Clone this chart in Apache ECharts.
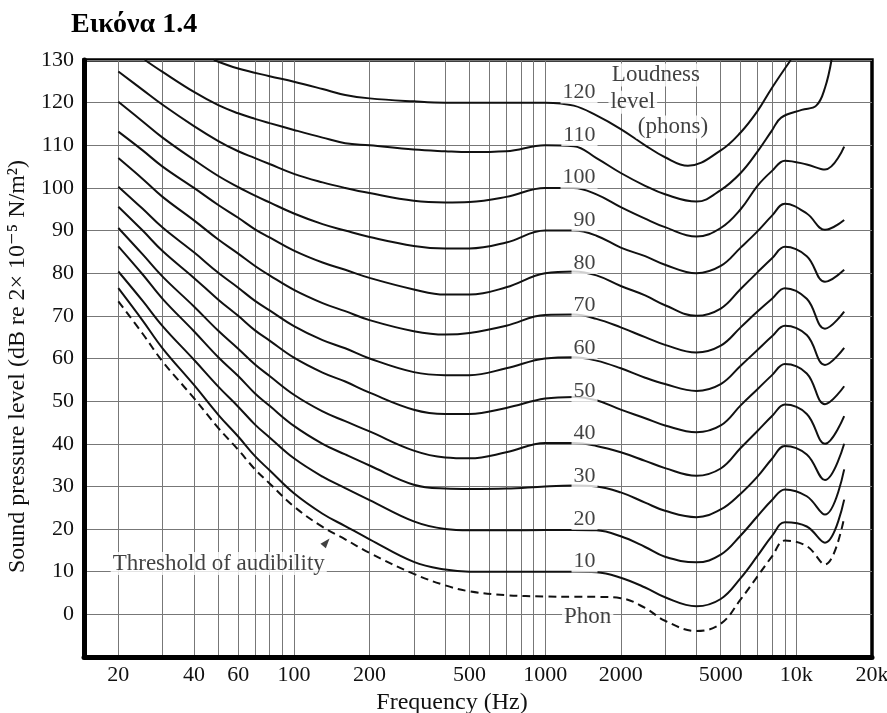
<!DOCTYPE html>
<html>
<head>
<meta charset="utf-8">
<script src="https://cdn.jsdelivr.net/npm/echarts@6/dist/echarts.min.js"></script>
<style>html,body{margin:0;padding:0;background:#fff}#c{width:887px;height:713px}</style>
</head>
<body>
<div id="c"></div>
<script>
// ---------- data ----------
const freqs = [20, 25, 30, 40, 50, 60, 70, 80, 100, 130, 160, 200, 300, 400, 500, 700, 1000, 1300, 1600, 2000, 2500, 3000, 4000, 5000, 6000, 7000, 8000, 9000, 11000, 13000, 15500];

const threshold = [73.4, 65.8, 59.3, 50.7, 43.7, 38.6, 34.0, 30.7, 25.3, 20.5, 17.6, 14.4, 9.5, 6.8, 5.4, 4.5, 4.2, 4.1, 4.1, 3.8, 1.5, -1.5, -3.9, -2.2, 3.5, 8.9, 13.6, 17.3, 16.0, 11.7, 22.7];
const phon10  = [76.5, 68.9, 62.4, 53.8, 46.8, 41.7, 37.1, 33.8, 28.4, 23.6, 20.7, 17.6, 12.3, 10.5, 10.0, 10.0, 10.0, 10.0, 9.9, 8.6, 6.3, 4.0, 1.9, 3.6, 8.5, 13.7, 18.4, 21.6, 20.6, 16.8, 26.9];
const phon20  = [80.4, 73.5, 67.6, 59.7, 53.4, 48.7, 44.5, 41.5, 36.6, 32.3, 29.6, 26.8, 21.8, 20.0, 19.7, 19.7, 19.8, 19.8, 19.7, 18.3, 15.8, 13.5, 12.2, 14.0, 18.5, 23.0, 26.8, 29.3, 27.7, 23.4, 34.0];
const phon30  = [86.3, 79.7, 74.0, 66.4, 60.3, 55.9, 51.8, 48.9, 44.2, 40.0, 37.5, 34.9, 30.4, 29.5, 29.4, 29.5, 30.0, 30.2, 30.0, 28.6, 26.2, 24.3, 22.8, 24.6, 28.3, 32.3, 36.5, 39.5, 37.5, 31.5, 40.0];
const phon40  = [90.6, 84.4, 79.2, 72.2, 66.5, 62.3, 58.6, 55.9, 51.5, 47.6, 45.3, 42.9, 38.4, 36.8, 36.6, 38.0, 40.2, 40.2, 39.5, 38.0, 36.0, 34.3, 32.5, 34.2, 39.0, 43.0, 46.5, 49.2, 47.0, 40.0, 46.5];
const phon50  = [95.6, 90.0, 85.2, 78.9, 73.8, 70.0, 66.6, 64.2, 60.2, 56.7, 54.6, 52.0, 48.0, 47.0, 47.0, 48.4, 50.6, 51.0, 50.2, 48.0, 46.0, 44.3, 42.7, 44.3, 49.0, 52.8, 56.1, 58.7, 56.5, 49.3, 53.5];
const phon60  = [100.3, 95.1, 90.7, 84.9, 80.1, 76.6, 73.5, 71.3, 67.6, 64.3, 62.4, 60.0, 56.8, 56.1, 56.1, 57.7, 60.0, 60.3, 59.5, 57.7, 55.5, 54.0, 52.4, 54.0, 58.3, 62.0, 65.2, 67.7, 65.5, 58.5, 62.5];
const phon70  = [107.0, 102.1, 97.9, 92.4, 87.9, 84.6, 81.7, 79.5, 76.1, 73.0, 71.1, 69.0, 66.4, 65.6, 66.0, 67.7, 70.2, 70.3, 69.3, 67.3, 65.0, 63.2, 61.4, 63.0, 67.3, 71.0, 74.0, 76.5, 74.0, 67.0, 71.0];
const phon80  = [113.2, 108.8, 105.0, 100.0, 96.0, 93.0, 90.3, 88.4, 85.3, 82.5, 80.8, 78.9, 76.2, 75.0, 75.0, 76.7, 80.0, 80.4, 79.5, 77.0, 74.8, 72.5, 70.0, 71.7, 76.3, 80.2, 83.5, 86.2, 84.0, 78.0, 80.8];
const phon90  = [120.2, 115.6, 111.8, 106.6, 102.8, 100.2, 98.2, 96.6, 94.0, 91.5, 90.0, 88.5, 86.4, 85.8, 85.8, 87.2, 90.0, 90.0, 88.8, 86.0, 84.0, 82.0, 80.0, 81.7, 86.0, 89.8, 93.5, 96.3, 94.0, 90.2, 92.5];
const phon100 = [127.3, 123.0, 119.5, 114.5, 111.0, 108.6, 107.0, 105.6, 103.3, 101.3, 100.0, 98.8, 97.0, 96.6, 96.7, 97.9, 100.0, 100.0, 98.5, 95.5, 92.8, 90.8, 88.6, 90.6, 95.0, 100.5, 104.0, 106.4, 105.5, 104.3, 109.7];

const freq110 = [25.5, 30, 40, 50, 60, 70, 80, 100, 130, 160, 200, 300, 400, 500, 700, 1000, 1300, 1600, 2000, 2500, 3000, 4000, 5000, 6000, 7000, 8000, 8700, 10500, 12000, 13000, 13800];
const phon110 = [130, 127.2, 122.5, 119.4, 117.5, 116.2, 115.2, 113.6, 111.8, 110.5, 110.0, 109.0, 108.6, 108.4, 108.6, 110.0, 109.8, 107.0, 103.5, 100.5, 98.5, 96.8, 99.5, 103.5, 108.5, 113.5, 116.5, 118.3, 119.3, 123.5, 130];

const freq120 = [48, 60, 80, 100, 130, 160, 200, 300, 400, 500, 700, 1000, 1300, 1600, 2000, 2500, 3000, 3700, 5000, 6000, 7000, 8000, 9500];
const phon120 = [130, 128.0, 126.2, 124.9, 123.2, 121.8, 121.0, 120.3, 120.0, 120.0, 120.0, 120.0, 119.3, 117.0, 113.8, 110.0, 107.2, 105.2, 108.8, 113.0, 118.0, 123.5, 130];

const phonLevels = [120, 110, 100, 90, 80, 70, 60, 50, 40, 30, 20, 10];
const xLabelValues = [20, 40, 60, 100, 200, 500, 1000, 2000, 5000, 10000, 20000];
const xGridValues = [20, 30, 40, 50, 60, 70, 80, 90, 100, 200, 300, 400, 500, 600, 700, 800, 900, 1000, 2000, 3000, 4000, 5000, 6000, 7000, 8000, 9000, 10000];

// ---------- chart ----------
const serif = '"Liberation Serif", "DejaVu Serif", serif';
const pair = (fs, vs) => fs.map((f, i) => [f, vs[i]]);

const contours = [
  [freqs, phon10], [freqs, phon20], [freqs, phon30], [freqs, phon40], [freqs, phon50],
  [freqs, phon60], [freqs, phon70], [freqs, phon80], [freqs, phon90], [freqs, phon100],
  [freq110, phon110], [freq120, phon120]
];

const series = contours.map((c, i) => ({
  type: 'line', name: String((i + 1) * 10), data: pair(c[0], c[1]),
  smooth: 0.4, symbol: 'none', silent: true, z: 3,
  lineStyle: { color: '#111', width: 2 }
}));

series.push({
  type: 'line', name: 'threshold', data: pair(freqs, threshold),
  smooth: 0.4, symbol: 'none', silent: true, z: 3,
  lineStyle: { color: '#111', width: 2, type: [8, 5] }
});

const textLabel = (extra) => Object.assign({
  show: true, fontFamily: serif, fontSize: 23, color: '#111',
  backgroundColor: '#fff', padding: [0, 2]
}, extra);

// phon numbers, right-aligned near 1.6 kHz just above each contour
series.push({
  type: 'scatter', symbolSize: 0, silent: true, z: 5,
  data: phonLevels.map(p => ({ name: String(p), value: [1616, p + 2.4] })),
  label: textLabel({ position: 'left', distance: 0, formatter: '{b}', fontSize: 22 })
});

// annotations
series.push({
  type: 'scatter', symbolSize: 0, silent: true, z: 5,
  data: [
    { name: 'Loudness', value: [2760, 126.5] },
    { name: 'level', value: [2233, 120.1] },
    { name: '(phons)', value: [3228, 114.3] },
    { name: 'Threshold of audibility', value: [50.2, 11.9] },
    { name: 'Phon', value: [1476, -0.5] }
  ],
  label: textLabel({ position: 'inside', formatter: '{b}' })
});

// small arrow head pointing from the label to the threshold curve
series.push({
  type: 'scatter', silent: true, z: 6,
  symbol: 'triangle', symbolSize: [7, 10], symbolRotate: -40,
  itemStyle: { color: '#111' },
  data: [[134.6, 16.9]]
});

const chart = echarts.init(document.getElementById('c'), null, { renderer: 'canvas' });
chart.setOption({
  animation: false,
  backgroundColor: '#fff',
  title: {
    text: 'Εικόνα 1.4', left: 66, top: 6,
    textStyle: { fontFamily: serif, fontWeight: 'bold', fontSize: 28, color: '#000' }
  },
  grid: {
    left: 84, right: 15, top: 60, bottom: 56,
    show: true, borderColor: '#000', borderWidth: 3.5,
    outerBoundsMode: 'none'
  },
  xAxis: {
    type: 'log', logBase: 10, min: 14.6, max: 20000,
    axisLine: { show: true, onZero: false, lineStyle: { color: '#000', width: 5 } },
    axisTick: { show: false, customValues: xGridValues },
    axisLabel: {
      customValues: xLabelValues, margin: 7,
      fontFamily: serif, fontSize: 22, color: '#111',
      formatter: v => (v >= 10000 ? (v / 1000) + 'k' : String(v))
    },
    splitLine: { show: true, lineStyle: { color: '#777', width: 1 } },
    name: 'Frequency (Hz)', nameLocation: 'middle', nameGap: 19,
    nameTextStyle: { fontFamily: serif, fontSize: 24, color: '#111', padding: [0, 52, 0, 0] }
  },
  yAxis: {
    type: 'value', min: -10, max: 130, interval: 10,
    axisLine: { show: true, onZero: false, lineStyle: { color: '#000', width: 5 } },
    axisTick: { show: false },
    axisLabel: {
      margin: 10, fontFamily: serif, fontSize: 22, color: '#111',
      formatter: v => (v < 0 ? '' : String(v))
    },
    splitLine: { show: true, lineStyle: { color: '#777', width: 1 } },
    name: 'Sound pressure level (dB re 2× 10⁻⁵ N/m²)', nameLocation: 'middle', nameGap: 46,
    nameTextStyle: { fontFamily: serif, fontSize: 24, color: '#111', padding: [0, 16, 0, 0] }
  },
  series: series
});
</script>
</body>
</html>
